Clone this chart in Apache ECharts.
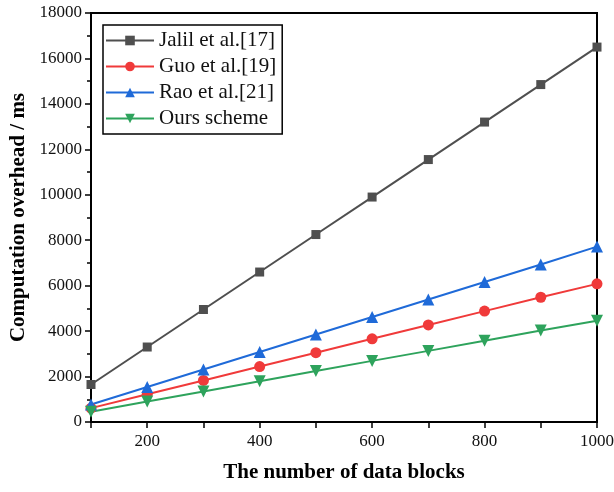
<!DOCTYPE html>
<html><head><meta charset="utf-8">
<script src="https://cdn.jsdelivr.net/npm/echarts@6/dist/echarts.min.js"></script>
<style>html,body{margin:0;padding:0;background:#fff}#c{width:614px;height:492px}</style>
</head><body><div id="c"></div>
<script>
const blocks = [100, 200, 300, 400, 500, 600, 700, 800, 900, 1000];
const jalil = [1650, 3300, 4950, 6600, 8250, 9900, 11550, 13200, 14850, 16500];
const guo = [610, 1220, 1830, 2440, 3050, 3660, 4270, 4880, 5490, 6080];
const rao = [770, 1540, 2310, 3080, 3850, 4620, 5390, 6160, 6930, 7720];
const ours = [450, 900, 1340, 1790, 2240, 2690, 3130, 3580, 4030, 4460];
const xLabels = [200, 400, 600, 800, 1000];
const names = ['Jalil et al.[17]', 'Guo et al.[19]', 'Rao et al.[21]', 'Ours scheme'];

const font = 'Liberation Serif';
function mk(name, vals, color, symbol, size, rotate) {
  return {
    name, type: 'line', data: blocks.map((b, i) => [b, vals[i]]),
    symbol, symbolSize: size, symbolRotate: rotate || 0,
    lineStyle: { color, width: 2 }, itemStyle: { color },
    z: 3
  };
}
const chart = echarts.init(document.getElementById('c'));
chart.setOption({
  animation: false,
  backgroundColor: '#fff',
  grid: { left: 91, right: 17, top: 13, bottom: 70, outerBoundsMode: 'none', containLabel: false,
    show: true, borderColor: '#000', borderWidth: 2, backgroundColor: 'transparent' },
  legend: {
    orient: 'vertical', left: 103, top: 25,
    data: names,
    itemWidth: 48, itemHeight: 12, itemGap: 5,
    borderColor: '#000', borderWidth: 1.5, padding: [5, 6, 5, 2],
    textStyle: { fontFamily: font, fontSize: 21, color: '#111' }
  },
  xAxis: {
    type: 'value', min: 100, max: 1000, interval: 100,
    name: 'The number of data blocks', nameLocation: 'middle', nameGap: 40,
    nameTextStyle: { fontFamily: font, fontSize: 21, fontWeight: 'bold', color: '#000' },
    axisLine: { lineStyle: { color: '#000', width: 2 } },
    axisTick: { show: true, inside: false, length: 6, lineStyle: { color: '#000', width: 1.5 } },
    axisLabel: { fontFamily: font, fontSize: 17, color: '#111', margin: 11,
      formatter: v => xLabels.includes(v) ? String(v) : '', showMinLabel: true, showMaxLabel: true },
    splitLine: { show: false }
  },
  yAxis: {
    type: 'value', min: 0, max: 18000, interval: 2000,
    name: 'Computation overhead / ms', nameLocation: 'middle', nameGap: 62,
    nameTextStyle: { fontFamily: font, fontSize: 21, fontWeight: 'bold', color: '#000' },
    axisLine: { show: true, lineStyle: { color: '#000', width: 2 } },
    axisTick: { show: true, inside: false, length: 6, lineStyle: { color: '#000', width: 1.5 } },
    minorTick: { show: true, splitNumber: 2, length: 4, lineStyle: { color: '#000', width: 1.5 } },
    axisLabel: { fontFamily: font, fontSize: 17, color: '#111', margin: 9, formatter: v => String(v) },
    splitLine: { show: false }
  },
  series: [
    mk(names[0], jalil, '#4f4f4f', 'rect', 9),
    mk(names[1], guo, '#f03a3a', 'circle', 11),
    mk(names[2], rao, '#1f6ad8', 'triangle', 12),
    mk(names[3], ours, '#2ea35c', 'triangle', 12, 180)
  ]
});
</script></body></html>
